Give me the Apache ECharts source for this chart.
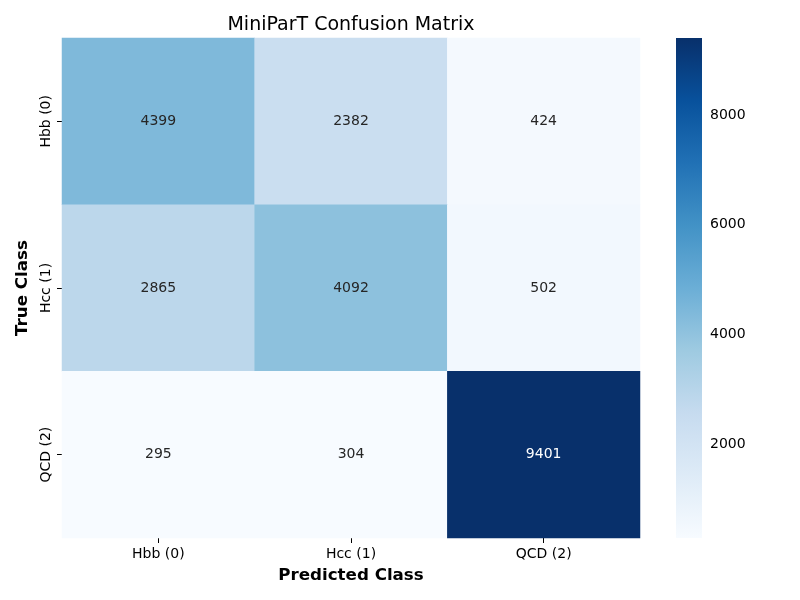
<!DOCTYPE html>
<html>
<head>
<meta charset="utf-8">
<script src="https://cdn.jsdelivr.net/npm/echarts@6/dist/echarts.min.js"></script>
<style>
  html, body { margin: 0; padding: 0; background: #fff; }
  #main { width: 800px; height: 600px; }
</style>
</head>
<body>
<div id="main"></div>
<script>
// class labels (same for both axes)
var classes = ['Hbb (0)', 'Hcc (1)', 'QCD (2)'];
// counts, one row per true class
var rowHbb = [4399, 2382, 424];
var rowHcc = [2865, 4092, 502];
var rowQCD = [295, 304, 9401];
var colorbarTicks = [2000, 4000, 6000, 8000];

var rows = [rowHbb, rowHcc, rowQCD];
var vmin = 295, vmax = 9401;
// matplotlib Blues
var blues = ['#f7fbff', '#deebf7', '#c6dbef', '#9ecae1', '#6baed6', '#4292c6', '#2171b5', '#08519c', '#08306b'];

var data = [];
for (var i = 0; i < rows.length; i++) {
    for (var j = 0; j < rows[i].length; j++) {
        var v = rows[i][j];
        data.push({
            value: [j, i, v],
            label: { color: v > 7000 ? '#ffffff' : '#262626' }
        });
    }
}

// gradient for the colorbar, bottom (min) -> top (max)
var stops = blues.map(function (c, k) {
    return { offset: k / (blues.length - 1), color: c };
});

var font = 'DejaVu Sans';
var myChart = echarts.init(document.getElementById('main'));
var option = {
    backgroundColor: '#ffffff',
    animation: false,
    title: {
        text: 'MiniParT Confusion Matrix',
        left: 346,
        top: 11,
        textAlign: 'center',
        textStyle: { fontFamily: font, fontSize: 19, fontWeight: 'normal', color: '#000' }
    },
    grid: [
        { left: 62, top: 38, width: 578, height: 500 },
        { left: 676, top: 38, width: 26, height: 500 }
    ],
    xAxis: [{
        type: 'category',
        data: classes,
        gridIndex: 0,
        name: 'Predicted Class',
        nameLocation: 'middle',
        nameGap: 29,
        nameTextStyle: { fontFamily: font, fontSize: 16.7, fontWeight: 'bold', color: '#000' },
        axisLine: { show: false },
        axisTick: { show: true, alignWithLabel: true, length: 5, lineStyle: { color: '#000' } },
        axisLabel: { fontFamily: font, fontSize: 14, color: '#000', margin: 9 },
        splitLine: { show: false }
    }, {
        type: 'value',
        gridIndex: 1,
        min: 0,
        max: 1,
        show: false
    }],
    yAxis: [{
        type: 'category',
        data: classes,
        inverse: true,
        gridIndex: 0,
        name: 'True Class',
        nameLocation: 'middle',
        nameGap: 31,
        nameRotate: 90,
        nameTextStyle: { fontFamily: font, fontSize: 16.7, fontWeight: 'bold', color: '#000' },
        axisLine: { show: false },
        axisTick: { show: true, alignWithLabel: true, length: 5, lineStyle: { color: '#000' } },
        axisLabel: { fontFamily: font, fontSize: 14, color: '#000', rotate: 90, margin: 9 },
        splitLine: { show: false }
    }, {
        type: 'value',
        gridIndex: 1,
        position: 'right',
        min: vmin,
        max: vmax,
        axisLine: { show: false },
        axisTick: { show: true, length: 5, customValues: colorbarTicks, lineStyle: { color: '#000' } },
        axisLabel: {
            fontFamily: font, fontSize: 14, color: '#000', margin: 8,
            customValues: colorbarTicks,
            formatter: function (v) { return String(v); }
        },
        splitLine: { show: false }
    }],
    visualMap: {
        type: 'continuous',
        show: false,
        min: vmin,
        max: vmax,
        seriesIndex: 0,
        inRange: { color: blues }
    },
    series: [{
        type: 'heatmap',
        xAxisIndex: 0,
        yAxisIndex: 0,
        data: data,
        label: {
            show: true,
            fontFamily: font,
            fontSize: 14
        },
        itemStyle: { borderWidth: 0 },
        emphasis: { disabled: true }
    }, {
        // colorbar
        type: 'custom',
        xAxisIndex: 1,
        yAxisIndex: 1,
        silent: true,
        data: [[vmin, vmax]],
        renderItem: function (params, api) {
            var p0 = api.coord([0, api.value(1)]);
            var p1 = api.coord([1, api.value(0)]);
            return {
                type: 'rect',
                shape: { x: p0[0], y: p0[1], width: p1[0] - p0[0], height: p1[1] - p0[1] },
                style: { fill: new echarts.graphic.LinearGradient(0, 1, 0, 0, stops) }
            };
        }
    }]
};
myChart.setOption(option);
</script>
</body>
</html>
